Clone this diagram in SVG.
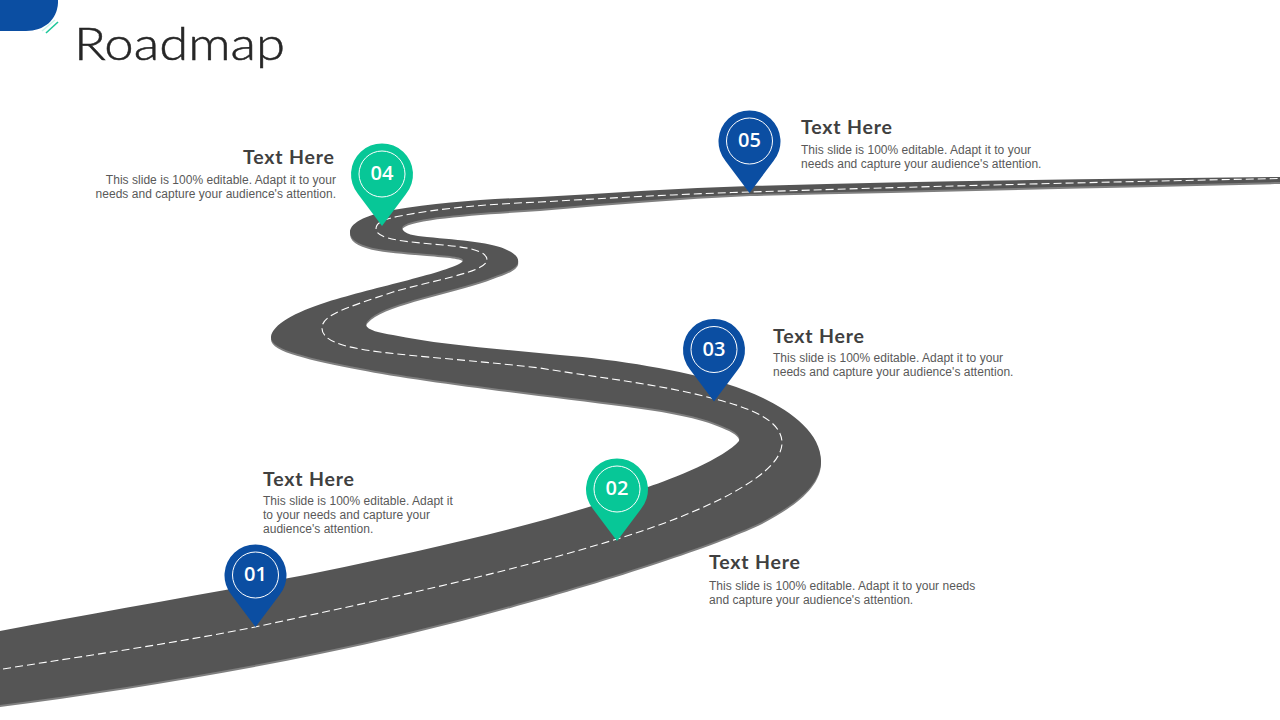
<svg xmlns="http://www.w3.org/2000/svg" width="1280" height="720" viewBox="0 0 1280 720">
<style>
.title{font-family:"Lato","Liberation Sans",sans-serif;font-weight:300;font-size:46px;fill:#262626;stroke:#262626;stroke-width:.5px}
.h{font-family:"Lato","Liberation Sans",sans-serif;font-weight:700;font-size:19.500px;fill:#404040}
.b{font-family:"Liberation Sans",Arial,sans-serif;font-size:12px;letter-spacing:.03px;fill:#595959}
.n{font-family:"Open Sans","Liberation Sans",sans-serif;font-weight:600;font-size:20px;fill:#fff;text-anchor:middle}
.blue{fill:#0b4ea2}.green{fill:#07c797}
.ring{fill:none;stroke:#fff;stroke-width:1}
.end{text-anchor:end}
</style>
<defs>
<path id="pin" d="M0 52L-24 20A31 31 0 1 1 24 20Z"/>
<path id="road" d="M0 631C100 612 220 592 320 572C440 547 560 520 648 487C672 479 725 458 739 441C741 436 735 431 722 426C700 416 665 410 627 405C540 394 420 380 360 368C310 358 270 350 271 337C272 325 295 312 327 302C375 287 450 272 462 262C468 257 450 256 427 254C395 251 352 250 350 233C349 222 370 214 393 210C440 202 490 199 540 197C610 193 680 188 750 186C930 181 1100 179 1280 177V182C1100 186 930 190 750 194C680 197 610 203 540 209C480 213 405 217 402 228C403 234 415 236 427 237C460 240 495 243 507 250C516 254 519 258 518 263C516 269 505 273 493 277C460 290 400 300 375 315C369 319 366 322 366 325C367 330 380 333 393 335C440 345 500 349 560 355C620 360 680 370 727 384C770 397 821 425 821 461C821 485 795 505 760 523C690 556 480 620 320 652C210 675 100 692 0 705Z"/>
</defs>
<g id="corner">
<path class="blue" d="M0 0H58V3C57 20 44 31 26 31H0Z"/>
<path d="M42 31L55 20" stroke="#c9f3e8" stroke-width="1.500" fill="none"/>
<path d="M46 33L58 22" stroke="#1cc79a" stroke-width="1.600" fill="none"/>
</g>
<text class="title" x="74" y="60" textLength="211" lengthAdjust="spacingAndGlyphs">Roadmap</text>
<g id="connectors">
<use href="#road" y="2" fill="#7f7f7f"/>
<use href="#road" fill="#555555"/>
<path d="M3 669C90 655 170 644 255 627C380 600 500 575 617 539C680 520 782 480 782 443C782 420 750 408 715 399C660 384 600 378 540 368C470 360 420 357 380 352C340 347 321 340 322 327C323 315 345 308 393 292C430 281 487 272 487 260C487 250 465 247 443 245C410 242 376 240 376 229C376 222 385 219 400 216C440 208 490 204 540 202C610 198 680 194 750 192C900 187 1100 182 1280 178.500" fill="none" stroke="#fff" stroke-width="1.100" stroke-dasharray="8 4"/>
</g>
<g id="node-01">
<use href="#pin" x="255.500" y="575" class="blue"/>
<circle class="ring" cx="255.500" cy="575" r="23"/>
<text class="n" x="255.500" y="581">01</text>
<text class="h" x="263" y="486" textLength="91">Text Here</text>
<text class="b" x="263" y="505">This slide is 100% editable. Adapt it</text>
<text class="b" x="263" y="519">to your needs and capture your</text>
<text class="b" x="263" y="533">audience's attention.</text>
</g>
<g id="node-02">
<use href="#pin" x="617" y="489" class="green"/>
<circle class="ring" cx="617" cy="489" r="23"/>
<text class="n" x="617" y="495">02</text>
<text class="h" x="709" y="569" textLength="91">Text Here</text>
<text class="b" x="709" y="590">This slide is 100% editable. Adapt it to your needs</text>
<text class="b" x="709" y="604">and capture your audience's attention.</text>
</g>
<g id="node-03">
<use href="#pin" x="714" y="349.500" class="blue"/>
<circle class="ring" cx="714" cy="349.500" r="23"/>
<text class="n" x="714" y="356">03</text>
<text class="h" x="773" y="343" textLength="91">Text Here</text>
<text class="b" x="773" y="362">This slide is 100% editable. Adapt it to your</text>
<text class="b" x="773" y="376">needs and capture your audience's attention.</text>
</g>
<g id="node-04">
<use href="#pin" x="382" y="174" class="green"/>
<circle class="ring" cx="382" cy="174" r="23"/>
<text class="n" x="382" y="180">04</text>
<text class="h" x="243" y="164" textLength="91">Text Here</text>
<text class="b end" x="336" y="184">This slide is 100% editable. Adapt it to your</text>
<text class="b end" x="336" y="198">needs and capture your audience's attention.</text>
</g>
<g id="node-05">
<use href="#pin" x="749.500" y="141" class="blue"/>
<circle class="ring" cx="749.500" cy="141" r="23"/>
<text class="n" x="749.500" y="147">05</text>
<text class="h" x="801" y="134" textLength="91">Text Here</text>
<text class="b" x="801" y="154">This slide is 100% editable. Adapt it to your</text>
<text class="b" x="801" y="168">needs and capture your audience's attention.</text>
</g>
</svg>
